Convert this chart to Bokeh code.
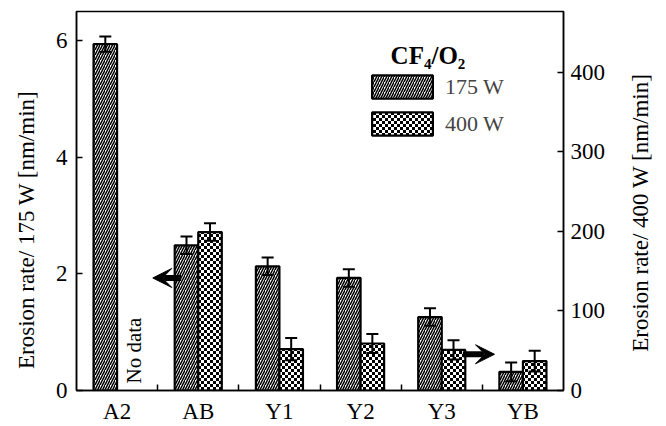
from bokeh.plotting import figure
from bokeh.layouts import row
from bokeh.models import (Range1d, LinearAxis, FixedTicker, ColumnDataSource, Whisker,
                          TeeHead, Arrow, VeeHead, Label, Legend, LegendItem, ImageURLTexture)
from bokeh.core.properties import value
from bokeh.embed import file_html
from bokeh.resources import INLINE
import math, zlib, struct, base64

categories = ["A2", "AB", "Y1", "Y2", "Y3", "YB"]
rate_175 = [5.94, 2.49, 2.13, 1.93, 1.26, 0.32]
err_175 = [0.13, 0.15, 0.15, 0.15, 0.15, 0.16]
rate_400 = [None, 199, 52, 59, 51, 37]
err_400 = [None, 11, 14, 12, 12, 13]
left_ticks = [0, 2, 4, 6]
right_ticks = [0, 100, 200, 300, 400]
left_title = "Erosion rate/ 175 W [nm/min]"
right_title = "Erosion rate/ 400 W [nm/min]"

FONT = "Liberation Serif"
bar_w = 0.29
NBSP = "\u00a0"
MAIN_W, SIDE_W, H = 608, 58, 426


def checker_png(n=3):
    size = 2 * n
    raw = b""
    for yy in range(size):
        raw += b"\x00"
        for xx in range(size):
            black = ((xx // n) + (yy // n)) % 2 == 0
            raw += bytes([0, 0, 0, 255]) if black else bytes([255, 255, 255, 255])

    def chunk(t, d):
        c = struct.pack(">I", len(d)) + t + d
        return c + struct.pack(">I", zlib.crc32(t + d) & 0xffffffff)

    ihdr = struct.pack(">IIBBBBB", size, size, 8, 6, 0, 0, 0)
    png = (b"\x89PNG\r\n\x1a\n" + chunk(b"IHDR", ihdr) +
           chunk(b"IDAT", zlib.compress(raw)) + chunk(b"IEND", b""))
    return "data:image/png;base64," + base64.b64encode(png).decode()


p = figure(width=MAIN_W, height=H, output_backend="svg", toolbar_location=None,
           x_range=Range1d(0, len(categories)), y_range=Range1d(0, 6.5),
           min_border_left=76, min_border_right=42, min_border_top=11, min_border_bottom=34)
p.extra_y_ranges = {"right": Range1d(0, 476)}
p.xgrid.visible = False
p.ygrid.visible = False
p.outline_line_color = "black"
p.outline_line_width = 1.5
p.background_fill_color = "white"
p.border_fill_color = "white"

idx = list(range(len(categories)))
src175 = ColumnDataSource(dict(
    x=[i + 0.5 - bar_w / 2 for i in idx],
    top=rate_175,
    upper=[r + e for r, e in zip(rate_175, err_175)],
    lower=[r - e for r, e in zip(rate_175, err_175)],
))
keep = [i for i in idx if rate_400[i] is not None]
src400 = ColumnDataSource(dict(
    x=[i + 0.5 + bar_w / 2 for i in keep],
    top=[rate_400[i] for i in keep],
    upper=[rate_400[i] + err_400[i] for i in keep],
    lower=[rate_400[i] - err_400[i] for i in keep],
))

checker = ImageURLTexture(url=checker_png(3), repetition="repeat")

r175 = p.vbar(x="x", top="top", width=bar_w, bottom=0, source=src175,
              fill_color="white", line_color="black", line_width=2.2,
              hatch_pattern="right_diagonal_line", hatch_color="black",
              hatch_scale=5, hatch_weight=1.5)
r400 = p.vbar(x="x", top="top", width=bar_w, bottom=0, source=src400, y_range_name="right",
              fill_color="white", line_color="black", line_width=2.2,
              hatch_pattern=value("checker"), hatch_extra={"checker": checker},
              hatch_color="black")


def tee():
    return TeeHead(size=12, line_width=2, line_color="black")


p.add_layout(Whisker(base="x", upper="upper", lower="lower", source=src175, level="annotation",
                     line_width=2, line_color="black", upper_head=tee(), lower_head=tee()))
p.add_layout(Whisker(base="x", upper="upper", lower="lower", source=src400, level="annotation",
                     y_range_name="right", line_width=2, line_color="black",
                     upper_head=tee(), lower_head=tee()))

# arrows pointing to the respective axes
p.add_layout(Arrow(x_start=1.29, y_start=1.93, x_end=0.94, y_end=1.93,
                   line_width=6, line_color="black",
                   end=VeeHead(size=19, fill_color="black", line_color="black", line_width=1)))
p.add_layout(Arrow(x_start=4.76, y_start=45.5, x_end=5.15, y_end=45.5, y_range_name="right",
                   line_width=6, line_color="black",
                   end=VeeHead(size=19, fill_color="black", line_color="black", line_width=1)))

p.add_layout(Label(x=0.71, y=0.12, text="No data", angle=math.pi / 2,
                   text_align="left", text_baseline="middle",
                   text_font=FONT, text_font_size="21px", text_color="black"))

p.add_layout(Label(x=3.87, y=5.74, text="CF₄/O₂", text_font=FONT, text_font_size="25px",
                   text_font_style="bold", text_color="black", text_baseline="alphabetic"))

legend = Legend(items=[LegendItem(label="175 W", renderers=[r175]),
                       LegendItem(label="400 W", renderers=[r400])],
                location=(288, 252), glyph_width=76, glyph_height=29, spacing=8,
                label_standoff=5, padding=0, margin=0, border_line_color=None,
                background_fill_alpha=0, label_text_font=FONT, label_text_font_size="22px",
                label_height=29)
p.add_layout(legend)


def style_axis(ax, size="23px"):
    ax.axis_line_color = "black"
    ax.axis_line_width = 1.5
    ax.major_tick_line_color = "black"
    ax.major_tick_line_width = 1.5
    ax.major_tick_in = 6
    ax.major_tick_out = 0
    ax.minor_tick_line_color = None
    ax.major_label_text_font = FONT
    ax.major_label_text_font_size = size
    ax.major_label_text_color = "black"
    ax.major_label_standoff = 8
    ax.axis_label_text_font = FONT
    ax.axis_label_text_font_size = "23px"
    ax.axis_label_text_font_style = "normal"
    ax.axis_label_text_color = "black"


ya = p.yaxis[0]
ya.ticker = FixedTicker(ticks=left_ticks)
style_axis(ya)
ya.major_label_standoff = 9
# trailing no-break spaces move the centred title a little down, as in the original
ya.axis_label = left_title + NBSP * 10
ya.axis_label_standoff = 14

ra = LinearAxis(y_range_name="right", ticker=FixedTicker(ticks=right_ticks))
style_axis(ra)
ra.major_label_standoff = 7
p.add_layout(ra, "right")

xa = p.xaxis[0]
xa.ticker = FixedTicker(ticks=[i + 0.5 for i in idx], minor_ticks=[i for i in idx[1:]])
xa.major_label_overrides = {i + 0.5: c for i, c in zip(idx, categories)}
style_axis(xa, "23px")
xa.major_tick_in = 0
xa.major_tick_out = 0
xa.minor_tick_line_color = "black"
xa.minor_tick_line_width = 1.5
xa.minor_tick_in = 6
xa.minor_tick_out = 0

# narrow strip on the right that carries the right-hand title, read bottom to top
side = figure(width=SIDE_W, height=H, output_backend="svg", toolbar_location=None,
              x_range=Range1d(0, SIDE_W), y_range=Range1d(0, H), min_border=0,
              x_axis_location=None, y_axis_location=None)
side.xgrid.visible = False
side.ygrid.visible = False
side.outline_line_color = None
side.background_fill_color = "white"
side.border_fill_color = "white"
side.text(x=[32], y=[200], text=[right_title], angle=math.pi / 2,
          text_align="center", text_baseline="middle", text_color="black",
          text_font=value(FONT), text_font_size=value("23px"))

layout = row(p, side, spacing=0)
open("out.html", "w").write(file_html(layout, INLINE))
